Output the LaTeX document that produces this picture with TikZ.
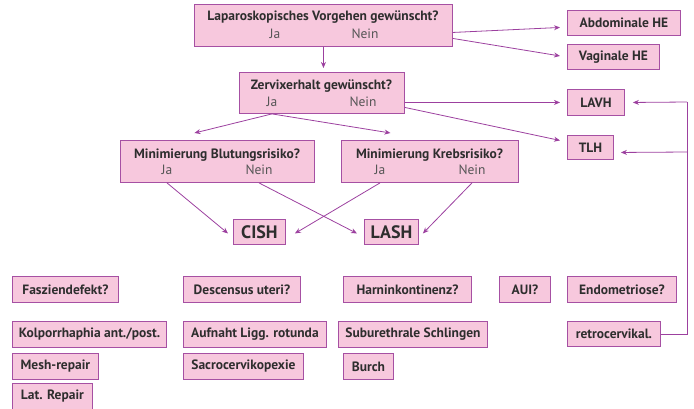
\documentclass[tikz,border=0pt]{standalone}
\usepackage{fontspec}
\setmainfont{PT Sans}
\usetikzlibrary{arrows.meta}
\definecolor{boxfill}{HTML}{F7C8DD}
\definecolor{boxline}{HTML}{A650A3}
\definecolor{arrcol}{HTML}{9C409F}
\definecolor{txt}{HTML}{2E2E2E}
\definecolor{txtlight}{HTML}{555555}
\tikzset{
  box/.style={draw=boxline, fill=boxfill, line width=0.9pt, anchor=north west, inner sep=0pt, text=txt, font=\fontsize{13.5}{15}\selectfont\bfseries},
  ttl/.style={text=txt, font=\fontsize{13.5}{15}\selectfont\bfseries, inner sep=0pt},
  yn/.style={text=txtlight, font=\fontsize{13.5}{15}\selectfont, inner sep=0pt},
  big/.style={font=\fontsize{18}{20}\selectfont\bfseries},
  arr/.style={draw=arrcol, line width=0.8pt, -{Stealth[length=6pt,width=5pt]}},
  ln/.style={draw=arrcol, line width=0.8pt},
}
\begin{document}
\begin{tikzpicture}[x=1pt,y=-1pt]
\useasboundingbox (0,0) rectangle (694,408);
% question boxes
\node[box, minimum width=258pt, minimum height=42pt] (q1) at (194,4) {};
\node[ttl] (q1t) at (323,17) {Laparoskopisches Vorgehen gewünscht?};
\node[yn] (q1ja) at (275,34) {Ja};
\node[yn] (q1ne) at (365,34) {Nein};

\node[box, minimum width=165pt, minimum height=41pt] (q2) at (239,72) {};
\node[ttl] (q2t) at (321.5,86) {Zervixerhalt gewünscht?};
\node[yn] (q2ja) at (272,102) {Ja};
\node[yn] (q2ne) at (363,102) {Nein};

\node[box, minimum width=194pt, minimum height=42pt] (q3) at (120,140) {};
\node[ttl] (q3t) at (217,155) {Minimierung Blutungsrisiko?};
\node[yn] (q3ja) at (167,170) {Ja};
\node[yn] (q3ne) at (259,170) {Nein};

\node[box, minimum width=177pt, minimum height=42pt] (q4) at (341,140) {};
\node[ttl] (q4t) at (429.5,155) {Minimierung Krebsrisiko?};
\node[yn] (q4ja) at (380,170) {Ja};
\node[yn] (q4ne) at (472,170) {Nein};

% result boxes right
\node[box, minimum width=113pt, minimum height=25pt] (abd) at (567,10) {Abdominale HE};
\node[box, minimum width=92pt, minimum height=25pt] (vag) at (567,44) {Vaginale HE};
\node[box, minimum width=57pt, minimum height=26pt] (lavh) at (567,89) {LAVH};
\node[box, minimum width=46pt, minimum height=24pt] (tlh) at (567,135) {TLH};

% CISH / LASH
\node[box, big, minimum width=52pt, minimum height=25pt] (cish) at (233,219) {CISH};
\node[box, big, minimum width=54pt, minimum height=25pt] (lash) at (364,219) {LASH};

% bottom row
\node[box, minimum width=106pt, minimum height=26pt] (fas) at (12,276) {Fasziendefekt?};
\node[box, minimum width=117pt, minimum height=26pt] (desc) at (183,276) {Descensus uteri?};
\node[box, minimum width=128pt, minimum height=26pt] (harn) at (343,276) {Harninkontinenz?};
\node[box, minimum width=51pt, minimum height=26pt] (aui) at (499,276) {AUI?};
\node[box, minimum width=109pt, minimum height=26pt] (endo) at (567,276) {Endometriose?};

\node[box, minimum width=154pt, minimum height=26pt] (kolp) at (12,321) {Kolporrhaphia ant./post.};
\node[box, minimum width=143pt, minimum height=26pt] (aufn) at (183,321) {Aufnaht Ligg. rotunda};
\node[box, minimum width=149pt, minimum height=26pt] (subu) at (338,321) {Suburethrale Schlingen};
\node[box, minimum width=93pt, minimum height=25pt] (retro) at (567,321) {retrocervikal.};

\node[box, minimum width=86pt, minimum height=26pt] (mesh) at (12,353) {Mesh-repair};
\node[box, minimum width=120pt, minimum height=26pt] (sacro) at (183,353) {Sacrocervikopexie};
\node[box, minimum width=50pt, minimum height=26pt] (burch) at (343,353) {Burch};

\node[box, minimum width=80pt, minimum height=26pt] (lat) at (12,383) {Lat. Repair};

% connectors
\draw[arr] ([yshift=-7pt]q1.east) -- ([xshift=-7pt,yshift=-4.5pt]abd.west);
\draw[arr] ([yshift=-13pt]q1.east) -- ([xshift=-7pt,yshift=1pt]vag.west);
\draw[arr] (q1.south) -- ([yshift=4pt]q1.south |- q2.north);
\draw[arr] (q2.east |- lavh.west) -- ([xshift=-7pt]lavh.west);
\draw[arr] ([yshift=-14.5pt]q2.east) -- ([xshift=-7pt,yshift=7pt]tlh.west);
\coordinate (q2b) at (q2ja.south |- q2.south);
\draw[arr] (q2b) -- ([xshift=-23pt,yshift=7pt]q3.north);
\draw[arr] (q2b) -- ([xshift=-39.5pt,yshift=7pt]q4.north);
\draw[arr] (q3ja.south |- q3.south) -- ([xshift=-5pt,yshift=-1.5pt]cish.west);
\draw[arr] (q3ne.south |- q3.south) -- ([xshift=-7pt,yshift=-1.5pt]lash.west);
\draw[arr] (q4ja.south |- q4.south) -- ([xshift=9pt,yshift=-1.5pt]cish.east);
\draw[arr] (q4ne.south |- q4.south) -- ([xshift=4pt,yshift=-1.5pt]lash.east);
\coordinate (rc) at (687,102);
\draw[ln] (retro.east) -- (retro.east -| rc) -- (rc);
\draw[arr] (rc) -- ([xshift=8pt]lavh.east);
\draw[arr] (rc |- 0,152) -- ([xshift=7pt,yshift=-5pt]tlh.east);
\end{tikzpicture}
\end{document}
